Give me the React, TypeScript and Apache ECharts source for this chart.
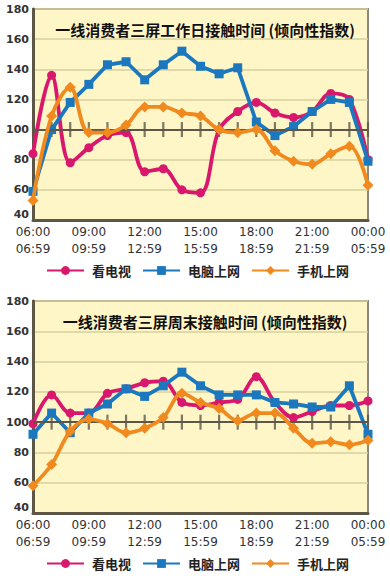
import React, { useEffect, useRef } from 'react';
import * as echarts from 'echarts';

const hours = [
  '06:00\n06:59', '07:00\n07:59', '08:00\n08:59', '09:00\n09:59', '10:00\n10:59',
  '11:00\n11:59', '12:00\n12:59', '13:00\n13:59', '14:00\n14:59', '15:00\n15:59',
  '16:00\n16:59', '17:00\n17:59', '18:00\n18:59', '19:00\n19:59', '20:00\n20:59',
  '21:00\n21:59', '22:00\n22:59', '23:00\n23:59', '00:00\n05:59',
];

const seriesNames = ['看电视', '电脑上网', '手机上网'];
const titles = ['一线消费者三屏工作日接触时间 (倾向性指数)', '一线消费者三屏周末接触时间 (倾向性指数)'];

// Weekday
const tvWeekday = [84, 136, 78, 88, 96, 98, 72, 74, 60, 58, 100, 112, 118, 111, 108, 112, 124, 120, 80];
const pcWeekday = [59, 100, 118, 130, 143, 145, 133, 143, 152, 142, 137, 141, 105, 96, 102, 112, 120, 118, 79];
const mobileWeekday = [53, 109, 128, 98, 98, 103, 115, 115, 111, 109, 100, 98, 100, 86, 79, 77, 84, 89, 63];

// Weekend
const tvWeekend = [99, 118, 106, 106, 119, 122, 126, 127, 113, 111, 113, 115, 130, 113, 103, 107, 111, 111, 114];
const pcWeekend = [92, 106, 93, 106, 112, 122, 117, 124, 133, 124, 118, 118, 118, 113, 112, 110, 110, 124, 92];
const mobileWeekend = [58, 72, 94, 102, 99, 93, 96, 103, 119, 113, 109, 101, 106, 106, 96, 86, 87, 85, 88];

const baseline = 100;
const yMin = 40;
const yMax = 180;
const yStep = 20;

const colors = ['#D8186C', '#1B78BE', '#F08A1E'];
const dark = '#5d5646';

export default function App() {
  const ref = useRef<HTMLDivElement>(null);

  useEffect(() => {
    if (!ref.current) return;
    const chart = echarts.init(ref.current, undefined, { renderer: 'svg' });

    const grids = [
      { left: 33, right: 22, top: 9, height: 211 },
      { left: 33, right: 22, top: 301, height: 212 },
    ].map((g) => ({
      ...g,
      show: true,
      backgroundColor: '#FFF6C8',
      borderColor: '#8c887c',
      borderWidth: 2,
    }));

    const xAxes = [0, 1].map((i) => ({
      type: 'category',
      gridIndex: i,
      data: hours,
      boundaryGap: false,
      axisLine: { show: true, lineStyle: { color: dark, width: 3 } },
      axisTick: { show: false },
      splitLine: { show: false },
      axisLabel: {
        interval: 2,
        fontFamily: 'DejaVu Sans',
        fontSize: 12,
        color: '#333',
        lineHeight: 17,
        margin: 3,
      },
    }));

    const yAxes = [0, 1].map((i) => ({
      type: 'value',
      gridIndex: i,
      min: yMin,
      max: yMax,
      interval: yStep,
      axisLine: { show: true, lineStyle: { color: dark, width: 3 } },
      axisTick: { show: false },
      splitLine: { show: true, lineStyle: { color: '#d8cf9e', width: 1.5 } },
      axisLabel: {
        fontFamily: 'DejaVu Sans',
        fontWeight: 'bold',
        fontSize: 11,
        color: '#333',
        margin: 4,
        formatter: (v: number) => (v === yMin ? `{low|${v}}` : `${v}`),
        rich: {
          low: {
            fontFamily: 'DejaVu Sans',
            fontWeight: 'bold',
            fontSize: 11,
            color: '#333',
            padding: [0, 0, 12, 0],
          },
        },
      },
    }));

    const datasets = [
      [tvWeekday, pcWeekday, mobileWeekday],
      [tvWeekend, pcWeekend, mobileWeekend],
    ];

    const series: any[] = [];
    datasets.forEach((group, gi) => {
      series.push({
        type: 'scatter',
        xAxisIndex: gi,
        yAxisIndex: gi,
        data: hours.map((h) => [h, baseline]),
        symbol: 'rect',
        symbolSize: [2.2, 15],
        itemStyle: { color: dark },
        silent: true,
        z: 1,
        markLine: {
          silent: true,
          symbol: 'none',
          label: { show: false },
          lineStyle: { color: dark, width: 2, type: 'solid' },
          data: [{ yAxis: baseline }],
        },
      });
      group.forEach((vals, si) => {
        series.push({
          name: seriesNames[si],
          type: 'line',
          xAxisIndex: gi,
          yAxisIndex: gi,
          data: vals,
          smooth: si === 1 ? false : 0.35,
          symbol: ['circle', 'rect', 'diamond'][si],
          symbolSize: [9, 9, 11][si],
          lineStyle: { width: 3.8, color: colors[si] },
          itemStyle: { color: colors[si] },
          z: 3 + si,
        });
      });
    });

    const legendBase = {
      left: 46,
      itemWidth: 37,
      itemHeight: 11,
      itemGap: 11,
      padding: 0,
      data: seriesNames,
      textStyle: {
        fontFamily: 'Noto Sans CJK SC',
        fontWeight: 'bold',
        fontSize: 13,
        lineHeight: 15,
        color: '#222',
        padding: [0, 0, 0, 3],
      },
    };

    chart.setOption({
      animation: false,
      backgroundColor: '#ffffff',
      textStyle: { fontFamily: 'Noto Sans CJK SC' },
      title: [
        { text: titles[0], left: 200, top: 17, textAlign: 'center' },
        { text: titles[1], left: 200, top: 309, textAlign: 'center' },
      ].map((t) => ({
        ...t,
        textStyle: { fontFamily: 'Noto Sans CJK SC', fontSize: 15, fontWeight: 'bold', color: '#111' },
      })),
      legend: [
        { ...legendBase, top: 263 },
        { ...legendBase, top: 556 },
      ],
      grid: grids,
      xAxis: xAxes,
      yAxis: yAxes,
      series,
    });

    return () => chart.dispose();
  }, []);

  return (
    <div
      ref={ref}
      style={{ position: 'fixed', left: 0, top: 0, width: 390, height: 576 }}
    />
  );
}
